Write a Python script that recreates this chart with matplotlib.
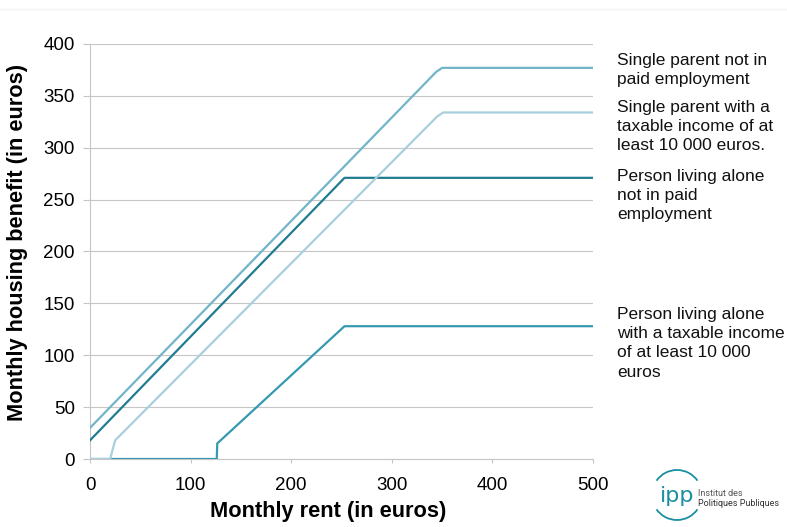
import matplotlib
matplotlib.use("Agg")
import matplotlib.pyplot as plt
from matplotlib.patches import Arc
from matplotlib.lines import Line2D

plt.rcParams['font.family'] = ['Liberation Sans', 'DejaVu Sans']

# Data (monthly rent -> monthly housing benefit, in euros)
sp_noemp_x = [0, 344, 350, 500]
sp_noemp_y = [30, 373, 377, 377]
sp_inc_x = [0, 20, 25, 345, 351, 500]
sp_inc_y = [0, 0, 18, 330, 334, 334]
pa_noemp_x = [0, 253, 500]
pa_noemp_y = [18, 271, 271]
pa_inc_x = [0, 126, 126.5, 253, 500]
pa_inc_y = [0, 0, 15, 128, 128]

labels = [
    "Single parent not in\npaid employment",
    "Single parent with a\ntaxable income of at\nleast 10 000 euros.",
    "Person living alone\nnot in paid\nemployment",
    "Person living alone\nwith a taxable income\nof at least 10 000\neuros",
]
xticks = [0, 100, 200, 300, 400, 500]
yticks = [0, 50, 100, 150, 200, 250, 300, 350, 400]

c_sp_noemp = '#72b4c8'
c_sp_inc = '#a9cfdc'
c_pa_noemp = '#217c91'
c_pa_inc = '#3699b1'

W, H = 787, 527
fig = plt.figure(figsize=(W / 100, H / 100), dpi=100)
ax = fig.add_axes([90 / W, 1 - 459 / H, (593 - 90) / W, (459 - 44) / H])

lw = 1.6
ax.plot(pa_inc_x, pa_inc_y, color=c_pa_inc, lw=lw, zorder=3)
ax.plot(pa_noemp_x, pa_noemp_y, color=c_pa_noemp, lw=lw, zorder=3)
ax.plot(sp_inc_x, sp_inc_y, color=c_sp_inc, lw=lw, zorder=4)
ax.plot(sp_noemp_x, sp_noemp_y, color=c_sp_noemp, lw=lw, zorder=4)

ax.set_xlim(0, 500)
ax.set_ylim(0, 400)
ax.set_xticks(xticks)
ax.set_yticks(yticks)
ax.yaxis.grid(True, color='#c6c6c6', lw=0.8)
ax.set_axisbelow(True)
for s in ['top', 'right']:
    ax.spines[s].set_visible(False)
ax.spines['left'].set_color('#c6c6c6')
ax.spines['bottom'].set_color('#c6c6c6')
ax.spines['left'].set_linewidth(0.8)
ax.spines['bottom'].set_linewidth(0.8)
ax.tick_params(axis='y', length=5, width=0.8, color='#c6c6c6', labelsize=13.5, pad=6)
ax.tick_params(axis='x', length=3, width=0.8, color='#c6c6c6', labelsize=13.5, pad=10)

xl = ax.set_xlabel("Monthly rent (in euros)", fontsize=15.7, fontweight='bold')
yl = ax.set_ylabel("Monthly housing benefit (in euros)", fontsize=15.7, fontweight='bold')
xl.set_verticalalignment('center')
yl.set_verticalalignment('center')
ax.xaxis.set_label_coords((328 - 90) / 503, (459 - 512) / 415)
ax.yaxis.set_label_coords((18 - 90) / 503, (459 - 242) / 415)

# Right-side labels
label_tops = [53, 100, 169, 307]
for lab, top in zip(labels, label_tops):
    fig.text(617 / W, 1 - top / H, lab, fontsize=12.5, va='top', ha='left',
             linespacing=1.35, color='#111111')

# Faint top rule
fig.add_artist(Line2D([0, 1], [1 - 9 / H, 1 - 9 / H], color='#f2f2f2', lw=1,
                      transform=fig.transFigure))

# Logo
lax = fig.add_axes([0, 0, 1, 1], facecolor='none')
lax.set_xlim(0, W)
lax.set_ylim(H, 0)
lax.axis('off')
teal = '#1a8fa2'
cx, cy, r = 677, 495, 25
lax.add_patch(Arc((cx, cy), 2 * r, 2 * r, theta1=35, theta2=145, color=teal, lw=1.3))
lax.add_patch(Arc((cx, cy), 2 * r, 2 * r, theta1=215, theta2=325, color=teal, lw=1.3))
lax.text(cx, cy + 1, "ipp", fontsize=16, color=teal, ha='center', va='center',
         family='DejaVu Sans')
lax.text(698, 493, "Institut des", fontsize=6.5, color='#555555', ha='left', va='center',
         family='Roboto')
lax.text(698, 504, "Politiques Publiques", fontsize=6.5, color='#333333', ha='left', va='center',
         family='Roboto')

fig.savefig("out.png", dpi=100)
